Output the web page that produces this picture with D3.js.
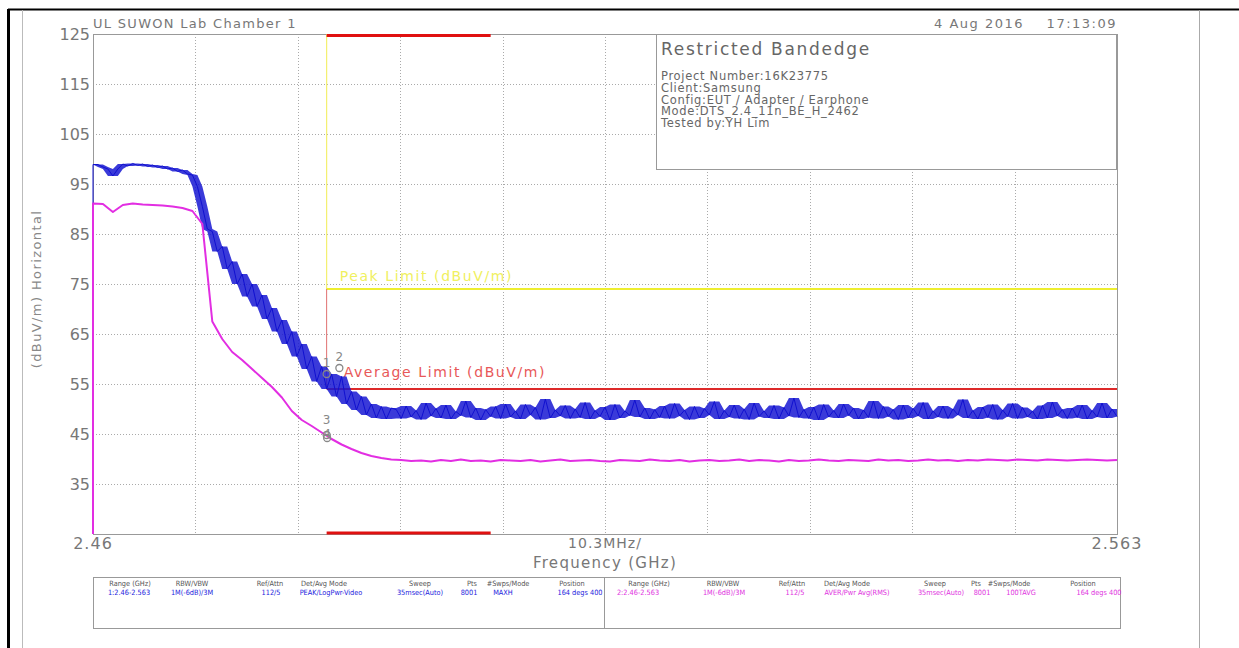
<!DOCTYPE html>
<html>
<head>
<meta charset="utf-8">
<script src="https://cdn.jsdelivr.net/npm/d3@7"></script>
<style>
body { margin: 0; background: #fff; }
text { font-family: "DejaVu Sans", sans-serif; }
.tbl text { font-family: "DejaVu Sans Condensed", "DejaVu Sans", sans-serif; font-size: 7.3px; }
</style>
</head>
<body>
<script>
var startFreq = 2.46;
var stopFreq = 2.563;
var sweepFloor = 25;     // first bin of both sweeps sits on the bottom line
var peakStep = 0.0005;   // GHz between listed peak samples
var avgStep = 0.001;     // GHz between listed average samples

// trace 1, PEAK / MAXH (dBuV/m)
var peakTrace = [
  98.9, 98.9, 98.4, 98.0, 96.6, 98.0, 99.0, 98.6, 99.1, 98.7,
  99.0, 98.5, 98.8, 98.3, 98.6, 98.0, 98.2, 97.5, 97.8, 97.0,
  96.8, 94.5, 90.5, 86.0, 85.5, 81.5, 82.5, 78.0, 79.5, 75.0,
  77.0, 72.5, 75.0, 70.5, 72.8, 68.0, 70.2, 65.5, 67.8, 63.0,
  65.5, 60.5, 63.0, 58.0, 60.5, 55.5, 58.5, 54.0, 57.0, 52.5,
  56.5, 51.0, 53.5, 49.8, 52.5, 48.8, 51.0, 48.2, 50.5, 48.0,
  50.2,
  49.9, 48.1, 50.6, 48.4, 49.7, 47.9, 51.2, 48.6, 50.1, 48.2,
  50.8, 48.0, 49.5, 48.7, 51.6, 48.3, 50.2, 47.8, 49.9, 48.5,
  50.5, 48.1, 51.0, 48.4, 49.6, 48.0, 50.9, 48.8, 50.3, 47.9,
  52.0, 48.2, 49.8, 48.6, 50.7, 48.1, 50.0, 48.3, 51.3, 48.0,
  49.7, 48.5, 50.4, 47.8, 50.9, 48.2, 49.6, 48.7, 51.8, 48.4,
  50.2, 48.0, 49.9, 48.3, 50.6, 48.1, 51.1, 48.6, 49.8, 47.9,
  50.5, 48.2, 50.1, 48.8, 51.5, 48.0, 49.7, 48.4, 50.8, 48.1,
  50.0, 47.9, 51.2, 48.5, 49.6, 48.2, 50.7, 48.0, 50.3, 48.6,
  52.2, 48.3, 49.9, 48.1, 50.4, 47.8, 50.9, 48.4, 49.7, 48.2,
  51.0, 48.7, 50.2, 48.0, 49.8, 48.3, 51.6, 48.1, 50.5, 48.5,
  49.9, 47.9, 50.8, 48.2, 50.1, 48.6, 51.3, 48.0, 49.6, 48.4,
  50.6, 48.1, 50.0, 48.8, 51.9, 48.2, 49.7, 48.0, 50.4, 48.3,
  50.9, 47.9, 49.8, 48.5, 51.1, 48.1, 50.3, 48.4, 49.6, 48.0,
  50.7, 48.2, 51.4, 48.6, 49.9, 48.1,
  50.2, 48.3, 50.8, 48.0, 49.7, 48.4, 51.2, 48.2, 50.0, 48.5
];

// trace 2, AVER / RMS (dBuV/m)
var avgTrace = [
  91.1, 91.0, 89.4, 90.8, 91.1, 90.9, 90.8, 90.7, 90.5, 90.2,
  89.6, 87.0, 67.5, 64.0, 61.4, 59.8, 58.0, 56.2, 54.4, 52.3,
  49.6, 47.8, 46.6, 45.3, 44.0, 42.9, 42.0, 41.2, 40.6, 40.2,
  39.9,
  39.8, 39.6, 39.7, 39.5, 39.8, 39.6, 39.9, 39.6, 39.7, 39.5,
  39.8, 39.7, 39.6, 39.8, 39.5, 39.7, 39.9, 39.6, 39.7, 39.8,
  39.6, 39.5, 39.8, 39.7, 39.6, 39.9, 39.7, 39.6, 39.8, 39.5,
  39.7, 39.8, 39.6, 39.7, 39.9, 39.6, 39.8, 39.7, 39.5, 39.8,
  39.6, 39.7, 39.9, 39.7, 39.6, 39.8, 39.7, 39.6, 39.9, 39.7,
  39.8, 39.6, 39.7, 39.9, 39.7, 39.8, 39.6, 39.8, 39.7, 39.9,
  39.8, 39.7, 39.9, 39.8, 39.7, 39.9, 39.8, 39.7, 39.8, 39.9,
  39.8, 39.7, 39.8
];

var yTicks = [125, 115, 105, 95, 85, 75, 65, 55, 45, 35];
var bandEdge = 2.4835;
var restrictedBand = [2.4835, 2.5];
var peakLimit = 74;
var avgLimit = 54;

var markers = [
  { n: '1', f: 2.4835, v: 57.0, dy: -7 },
  { n: '2', f: 2.48478, v: 58.2, dy: -7 },
  { n: '3', f: 2.4835, v: 44.8, dy: -11 },
  { n: '4', f: 2.48355, v: 44.2, dy: 0 }
];

var infoTitle = 'Restricted Bandedge';
var infoLines = [
  'Project Number:16K23775',
  'Client:Samsung',
  'Config:EUT / Adapter / Earphone',
  'Mode:DTS_2.4_11n_BE_H_2462',
  'Tested by:YH Lim'
];

var tableHeads = ['Range (GHz)', 'RBW/VBW', 'Ref/Attn', 'Det/Avg Mode', 'Sweep', 'Pts', '#Swps/Mode', 'Position'];
var trace1Row = ['1:2.46-2.563', '1M(-6dB)/3M', '112/5', 'PEAK/LogPwr-Video', '35msec(Auto)', '8001', 'MAXH', '164 degs 400'];
var trace2Row = ['2:2.46-2.563', '1M(-6dB)/3M', '112/5', 'AVER/Pwr Avg(RMS)', '35msec(Auto)', '8001', '100TAVG', '164 degs 400'];

var W = 1239, H = 648;
var plotL = 93, plotR = 1117, plotT = 34, plotB = 534;

var svg = d3.select('body').append('svg')
  .attr('width', W)
  .attr('height', H);

var x = d3.scaleLinear().domain([startFreq, stopFreq]).range([plotL, plotR]);
var y = d3.scaleLinear().domain([25, 125]).range([plotB, plotT]);

// page frame
svg.append('line').attr('x1', 8).attr('x2', W).attr('y1', 9.5).attr('y2', 9.5)
  .attr('stroke', '#000').attr('stroke-width', 2);
svg.append('line').attr('x1', 8.5).attr('x2', 8.5).attr('y1', 9).attr('y2', H)
  .attr('stroke', '#000').attr('stroke-width', 3);
svg.append('line').attr('x1', 22.5).attr('x2', 22.5).attr('y1', 10).attr('y2', H)
  .attr('stroke', '#bbb').attr('stroke-width', 1);
svg.append('line').attr('x1', 1199.5).attr('x2', 1199.5).attr('y1', 10).attr('y2', H)
  .attr('stroke', '#aaa').attr('stroke-width', 1);

// grid
var xGridVals = d3.range(1, 10).map(function(i){ return startFreq + i * (stopFreq - startFreq) / 10; });
svg.append('g').selectAll('line').data(xGridVals).enter().append('line')
  .attr('x1', function(d){ return Math.round(x(d)) + 0.5; })
  .attr('x2', function(d){ return Math.round(x(d)) + 0.5; })
  .attr('y1', plotT).attr('y2', plotB)
  .attr('stroke', '#aaa').attr('stroke-dasharray', '1,2');
svg.append('g').selectAll('line').data(yTicks.slice(1)).enter().append('line')
  .attr('x1', plotL).attr('x2', plotR)
  .attr('y1', function(d){ return Math.round(y(d)) + 0.5; })
  .attr('y2', function(d){ return Math.round(y(d)) + 0.5; })
  .attr('stroke', '#aaa').attr('stroke-dasharray', '1,2');

svg.append('rect').attr('x', plotL + 0.5).attr('y', plotT + 0.5)
  .attr('width', plotR - plotL).attr('height', plotB - plotT)
  .attr('fill', 'none').attr('stroke', '#999');

// y axis labels
var yAxis = d3.axisLeft(y).tickValues(yTicks).tickSize(0).tickPadding(3);
var yg = svg.append('g').attr('transform', 'translate(' + plotL + ',0)').call(yAxis);
yg.select('.domain').remove();
yg.selectAll('text').attr('font-size', 16).attr('fill', '#777')
  .attr('font-family', '"DejaVu Sans", sans-serif');

svg.append('text')
  .attr('transform', 'translate(41,289) rotate(-90)')
  .attr('text-anchor', 'middle')
  .attr('font-size', 13).attr('letter-spacing', 1.4).attr('fill', '#888')
  .text('(dBuV/m) Horizontal');

// x axis labels
svg.append('text').attr('x', x(startFreq)).attr('y', 549).attr('text-anchor', 'middle')
  .attr('font-size', 16).attr('letter-spacing', 1).attr('fill', '#777').text('2.46');
svg.append('text').attr('x', x(stopFreq)).attr('y', 549).attr('text-anchor', 'middle')
  .attr('font-size', 16).attr('letter-spacing', 1).attr('fill', '#777').text('2.563');
svg.append('text').attr('x', x((startFreq + stopFreq) / 2)).attr('y', 548).attr('text-anchor', 'middle')
  .attr('font-size', 14).attr('letter-spacing', 1).attr('fill', '#777').text('10.3MHz/');
svg.append('text').attr('x', x((startFreq + stopFreq) / 2)).attr('y', 568).attr('text-anchor', 'middle')
  .attr('font-size', 15).attr('letter-spacing', 1.3).attr('fill', '#777').text('Frequency (GHz)');

// header texts
svg.append('text').attr('x', plotL).attr('y', 28)
  .attr('font-size', 13).attr('letter-spacing', 1.3).attr('fill', '#777').text('UL SUWON Lab Chamber 1');
svg.append('text').attr('x', plotR).attr('y', 28).attr('text-anchor', 'end')
  .attr('font-size', 13).attr('letter-spacing', 1.5).attr('fill', '#777')
  .style('white-space', 'pre')
  .text('4 Aug 2016    17:13:09');

// limit lines
svg.append('line').attr('x1', x(bandEdge)).attr('x2', x(bandEdge))
  .attr('y1', plotT).attr('y2', y(peakLimit))
  .attr('stroke', '#f4f070').attr('stroke-width', 1.2);
svg.append('line').attr('x1', x(bandEdge)).attr('x2', x(stopFreq))
  .attr('y1', y(peakLimit)).attr('y2', y(peakLimit))
  .attr('stroke', '#eeee30').attr('stroke-width', 2);
svg.append('line').attr('x1', x(bandEdge)).attr('x2', x(bandEdge))
  .attr('y1', y(peakLimit)).attr('y2', y(avgLimit))
  .attr('stroke', '#e07070').attr('stroke-width', 1);
svg.append('line').attr('x1', x(bandEdge)).attr('x2', x(stopFreq))
  .attr('y1', y(avgLimit)).attr('y2', y(avgLimit))
  .attr('stroke', '#dd2a2a').attr('stroke-width', 2);

svg.append('text').attr('x', x(bandEdge) + 13).attr('y', y(peakLimit) - 8)
  .attr('font-size', 14).attr('letter-spacing', 1.6).attr('fill', '#f0f060').text('Peak Limit (dBuV/m)');
svg.append('text').attr('x', x(bandEdge) + 17).attr('y', y(avgLimit) - 12)
  .attr('font-size', 14).attr('letter-spacing', 1.6).attr('fill', '#e85858').text('Average Limit (dBuV/m)');

// restricted band bars
svg.append('line').attr('x1', x(restrictedBand[0])).attr('x2', x(restrictedBand[1]))
  .attr('y1', plotT + 1.5).attr('y2', plotT + 1.5).attr('stroke', '#e01010').attr('stroke-width', 3);
svg.append('line').attr('x1', x(restrictedBand[0])).attr('x2', x(restrictedBand[1]))
  .attr('y1', plotB - 1).attr('y2', plotB - 1).attr('stroke', '#e01010').attr('stroke-width', 3);

// traces
var peakData = peakTrace.map(function(v, i){ return { f: startFreq + i * peakStep, v: v }; });
var avgData = avgTrace.map(function(v, i){ return { f: startFreq + i * avgStep, v: v }; });

// min/max of neighbouring samples, drawn as the dense sweep band
peakData.forEach(function(d, i){
  var near = peakTrace.slice(Math.max(0, i - 1), i + 2);
  d.lo = d3.min(near);
  d.hi = d3.max(near);
});

var line = d3.line()
  .x(function(d){ return x(d.f); })
  .y(function(d){ return y(d.v); });

var band = d3.area()
  .x(function(d){ return x(d.f); })
  .y0(function(d){ return y(d.lo); })
  .y1(function(d){ return y(d.hi); });

svg.append('path').datum(peakData).attr('d', band)
  .attr('fill', '#1818d2').attr('fill-opacity', 0.85);
svg.append('path').datum([{ f: startFreq, v: sweepFloor }].concat(peakData)).attr('d', line)
  .attr('fill', 'none').attr('stroke', '#1010d0').attr('stroke-width', 1)
  .attr('stroke-linejoin', 'round');
svg.append('path').datum([{ f: startFreq, v: sweepFloor }].concat(avgData)).attr('d', line)
  .attr('fill', 'none').attr('stroke', '#e22ee2').attr('stroke-width', 2)
  .attr('stroke-linejoin', 'round');

// markers
var mk = svg.append('g').selectAll('g').data(markers).enter().append('g');
mk.append('circle')
  .attr('cx', function(d){ return x(d.f); })
  .attr('cy', function(d){ return y(d.v); })
  .attr('r', 3.5).attr('fill', 'none').attr('stroke', '#888').attr('stroke-width', 1.3);
mk.append('text')
  .attr('x', function(d){ return x(d.f); })
  .attr('y', function(d){ return y(d.v) + d.dy; })
  .attr('text-anchor', 'middle').attr('font-size', 12).attr('fill', '#888')
  .text(function(d){ return d.n; });

// info box
svg.append('rect').attr('x', 656.5).attr('y', plotT + 0.5).attr('width', 460).attr('height', 135)
  .attr('fill', '#fff').attr('stroke', '#999');
svg.append('text').attr('x', 661).attr('y', 55)
  .attr('font-size', 17).attr('letter-spacing', 1.7).attr('fill', '#666').text(infoTitle);
svg.append('g').selectAll('text').data(infoLines).enter().append('text')
  .attr('x', 661)
  .attr('y', function(d, i){ return 80 + i * 11.8; })
  .attr('font-size', 11.5).attr('letter-spacing', 0.7).attr('fill', '#666')
  .text(function(d){ return d; });

// settings table
var tbl = svg.append('g').attr('class', 'tbl');
tbl.append('rect').attr('x', plotL + 0.5).attr('y', 577.5).attr('width', 1027).attr('height', 51)
  .attr('fill', 'none').attr('stroke', '#999');
tbl.append('line').attr('x1', 604.5).attr('x2', 604.5).attr('y1', 577).attr('y2', 629)
  .attr('stroke', '#999');

var leftCols = [130, 192, 270, 324, 420, 472, 508, 572];
var rightCols = [649, 723, 792, 847, 935, 976, 1009, 1083];
var leftVals = [129, 192, 271, 331, 420, 469, 503, 580];
var rightVals = [638, 724, 795, 857, 941, 982, 1021, 1099];

svg.append('defs').append('clipPath').attr('id', 'leftHalf')
  .append('rect').attr('x', plotL).attr('y', 570).attr('width', 604 - plotL).attr('height', 60);

tbl.append('g').selectAll('text').data(tableHeads).enter().append('text')
  .attr('x', function(d, i){ return leftCols[i]; }).attr('y', 586)
  .attr('text-anchor', 'middle').attr('fill', '#555').text(function(d){ return d; });
tbl.append('g').selectAll('text').data(tableHeads).enter().append('text')
  .attr('x', function(d, i){ return rightCols[i]; }).attr('y', 586)
  .attr('text-anchor', 'middle').attr('fill', '#555').text(function(d){ return d; });
tbl.append('g').attr('clip-path', 'url(#leftHalf)').selectAll('text').data(trace1Row).enter().append('text')
  .attr('x', function(d, i){ return leftVals[i]; }).attr('y', 595)
  .attr('text-anchor', 'middle').attr('fill', '#2222dd').text(function(d){ return d; });
tbl.append('g').selectAll('text').data(trace2Row).enter().append('text')
  .attr('x', function(d, i){ return rightVals[i]; }).attr('y', 595)
  .attr('text-anchor', 'middle').attr('fill', '#e030e0').text(function(d){ return d; });
</script>
</body>
</html>
